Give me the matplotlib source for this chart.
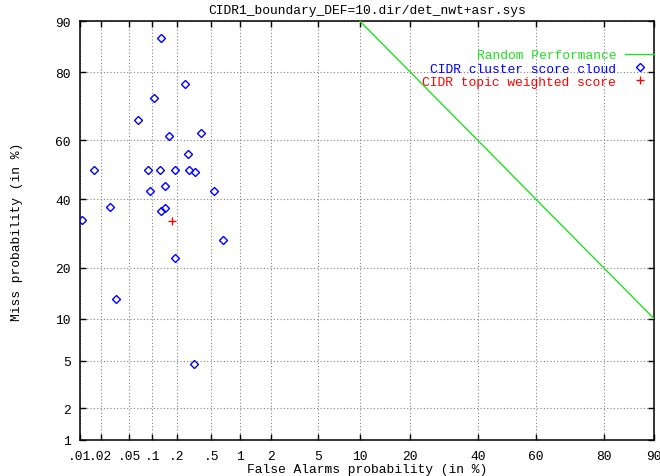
import numpy as np
import matplotlib
matplotlib.use("Agg")
import matplotlib.pyplot as plt
from matplotlib.ticker import FixedLocator, FixedFormatter, NullLocator
from statistics import NormalDist

# ---------------- data (percent) ----------------
cloud_pfa = [0.13, 0.25, 0.105, 0.066, 0.16, 0.39, 0.27, 0.016, 0.088, 0.125,
             0.19, 0.28, 0.33, 0.143, 0.094, 0.54, 0.027, 0.13, 0.146, 0.0108,
             0.67, 0.19, 0.033, 0.32]
cloud_pmiss = [87.1, 76.9, 73.2, 66.7, 61.5, 62.5, 55.5, 50.0, 50.0, 50.0,
               50.0, 50.0, 49.3, 44.4, 42.85, 42.85, 37.4, 36.2, 37.0, 33.3,
               27.3, 22.4, 13.3, 4.73]
topic_pfa = [0.176]
topic_pmiss = [33.0]
random_pfa = [10, 20, 40, 60, 80, 90]
random_pmiss = [100 - v for v in random_pfa]

x_ticks = [0.01, 0.02, 0.05, 0.1, 0.2, 0.5, 1, 2, 5, 10, 20, 40, 60, 80, 90]
x_labels = [".01", ".02", ".05", ".1", ".2", ".5", "1", "2", "5", "10", "20",
            "40", "60", "80", "90"]
y_ticks = [1, 2, 5, 10, 20, 40, 60, 80, 90]
y_labels = ["1", "2", "5", "10", "20", "40", "60", "80", "90"]

title = "CIDR1_boundary_DEF=10.dir/det_nwt+asr.sys"

# ---------------- normal deviate scale ----------------
_nd = NormalDist()
_ppf = np.vectorize(_nd.inv_cdf, otypes=[float])
_cdf = np.vectorize(_nd.cdf, otypes=[float])


def fwd(p):
    p = np.clip(np.asarray(p, dtype=float) / 100.0, 1e-12, 1 - 1e-12)
    return _ppf(p)


def inv(z):
    return _cdf(np.asarray(z, dtype=float)) * 100.0


FONT = "Liberation Mono"
FS = 9.4
plt.rcParams["font.family"] = [FONT, "DejaVu Sans Mono"]
plt.rcParams["font.size"] = FS

fig = plt.figure(figsize=(6.6, 4.77), dpi=100)
W, H = 660, 477
L, R, T, B = 80, 654, 22, 441
ax = fig.add_axes([L / W, 1 - B / H, (R - L) / W, (B - T) / H])

ax.set_xscale("function", functions=(fwd, inv))
ax.set_yscale("function", functions=(fwd, inv))
ax.set_xlim(0.01, 90)
ax.set_ylim(1, 90)

ax.xaxis.set_major_locator(FixedLocator(x_ticks))
ax.xaxis.set_major_formatter(FixedFormatter(x_labels))
ax.yaxis.set_major_locator(FixedLocator(y_ticks))
ax.yaxis.set_major_formatter(FixedFormatter(y_labels))
ax.xaxis.set_minor_locator(NullLocator())
ax.yaxis.set_minor_locator(NullLocator())

ax.tick_params(which="major", direction="in", length=4.5, width=1,
               top=True, right=True, colors="black", labelsize=FS)
ax.tick_params(axis="x", pad=7.2)
ax.tick_params(axis="y", pad=6.5)
ax.grid(True, color="#808080", linestyle=(0, (1, 2)), linewidth=0.8)
for s in ax.spines.values():
    s.set_linewidth(1.1)
    s.set_color("black")

green = "#22e022"
blue = "#0000ff"
red = "#ff0000"

ax.plot(random_pfa, random_pmiss, color=green, lw=1.0,
        label="Random Performance", zorder=3)
ax.plot(cloud_pfa, cloud_pmiss, linestyle="none", marker="D", markersize=4.2,
        markerfacecolor="none", markeredgecolor=blue, markeredgewidth=1.0,
        label="CIDR cluster score cloud", zorder=4)
ax.plot(topic_pfa, topic_pmiss, linestyle="none", marker="+", markersize=6,
        markeredgecolor=red, markeredgewidth=1.0,
        label="CIDR topic weighted score", zorder=4)

leg = ax.legend(loc="upper right", bbox_to_anchor=(1.0, 1 - 28 / 419),
                frameon=False, markerfirst=False, borderaxespad=0,
                borderpad=0, handlelength=2.2, handletextpad=0.7,
                labelspacing=0.1, fontsize=FS,
                labelcolor=[green, blue, red])

ax.set_title(title, fontsize=FS, pad=5.5, color="black")
ax.set_xlabel("False Alarms probability (in %)", fontsize=FS)
ax.set_ylabel("Miss probability (in %)", fontsize=FS)
ax.xaxis.set_label_coords(0.5, (B - 464) / (B - T))
ax.yaxis.set_label_coords((23.5 - L) / (R - L), 0.5)

fig.savefig("out.png", dpi=100)
